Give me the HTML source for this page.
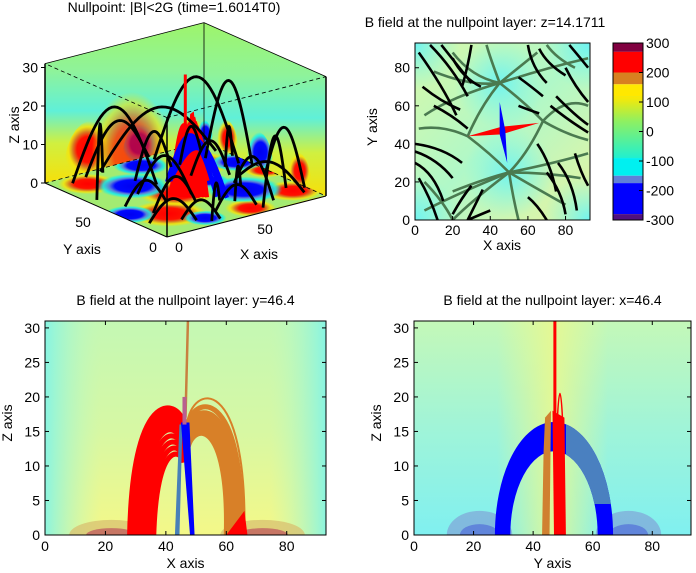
<!DOCTYPE html>
<html><head><meta charset="utf-8"><style>
html,body{margin:0;padding:0;background:#fff}
svg{display:block;font-family:"Liberation Sans",Arial,sans-serif}
</style></head><body>
<svg id="fig" width="696" height="573" viewBox="0 0 696 573" xmlns="http://www.w3.org/2000/svg">
<defs>
<linearGradient id="wallG" x1="0" y1="0" x2="0" y2="1">
<stop offset="0" stop-color="#9ef56a"/><stop offset="0.3" stop-color="#8ff39a"/><stop offset="0.55" stop-color="#60f0d8"/><stop offset="0.75" stop-color="#d0f040"/><stop offset="1" stop-color="#f6e00a"/></linearGradient>
<radialGradient id="hotG"><stop offset="0" stop-color="#ff0000"/><stop offset="0.45" stop-color="#ff1000"/><stop offset="0.62" stop-color="#d87a20"/><stop offset="0.8" stop-color="#f6e40a" stop-opacity="0.85"/><stop offset="1" stop-color="#f6e40a" stop-opacity="0"/></radialGradient>
<radialGradient id="coldG"><stop offset="0" stop-color="#0000f0"/><stop offset="0.5" stop-color="#0008ff"/><stop offset="0.65" stop-color="#5a7fd8"/><stop offset="0.82" stop-color="#10f0f0" stop-opacity="0.85"/><stop offset="1" stop-color="#10f0f0" stop-opacity="0"/></radialGradient>
<radialGradient id="cyanG"><stop offset="0" stop-color="#70f4f0"/><stop offset="1" stop-color="#80f8e8" stop-opacity="0"/></radialGradient>
<linearGradient id="blBg" x1="0" y1="0" x2="0" y2="1"><stop offset="0" stop-color="#c4f8b4"/><stop offset="0.5" stop-color="#d6f8a4"/><stop offset="1" stop-color="#f4f888"/></linearGradient>
<linearGradient id="blSide" x1="0" y1="0" x2="1" y2="0"><stop offset="0" stop-color="#80f4e8" stop-opacity="0.9"/><stop offset="0.2" stop-color="#c0f8c0" stop-opacity="0"/><stop offset="0.8" stop-color="#c0f8c0" stop-opacity="0"/><stop offset="1" stop-color="#80f4e8" stop-opacity="0.9"/></linearGradient>
<linearGradient id="brBg" x1="0" y1="0" x2="0" y2="1"><stop offset="0" stop-color="#c4f8b8"/><stop offset="0.5" stop-color="#a0f4d8"/><stop offset="1" stop-color="#80f0f0"/></linearGradient>
<linearGradient id="brMid" x1="0" y1="0" x2="1" y2="0"><stop offset="0.3" stop-color="#e8f890" stop-opacity="0"/><stop offset="0.5" stop-color="#e8f890" stop-opacity="0.9"/><stop offset="0.7" stop-color="#e8f890" stop-opacity="0"/></linearGradient>
<linearGradient id="trBg" x1="0" y1="0" x2="1" y2="1"><stop offset="0" stop-color="#d8f8a8"/><stop offset="0.5" stop-color="#b0f8c8"/><stop offset="1" stop-color="#e8f4a0"/></linearGradient>
<clipPath id="clipBL"><rect x="45" y="321" width="281" height="214"/></clipPath>
<clipPath id="clipBR"><rect x="414" y="321" width="277" height="214"/></clipPath>
<clipPath id="clipBRright"><rect x="566" y="321" width="125" height="183"/></clipPath>
<clipPath id="clipTR"><rect x="415" y="43" width="175" height="177"/></clipPath>
<clipPath id="clipFloor"><polygon points="45,183 167,237 326,195 204,142"/></clipPath>
<clipPath id="clipWalls"><polygon points="45,183 45,63 204,22 326,75 326,195 204,142"/></clipPath>
</defs>
<g id="tl"></g>
<g id="tr"></g>
<g id="bl"></g>
<g id="br"></g>
</svg>
<script>
// ---------- data ----------
const zTicks3d = [0,10,20,30];
const arcFoot1 = [[5,60],[10,85],[20,88],[30,90],[60,88],[80,75],[88,40],[85,20],[70,10],[15,30],[25,55],[35,70],[60,60],[75,45],[55,20],[40,15],[20,15],[10,45],[65,75],[80,60],[5,20],[30,5]];
const arcFoot2 = [[30,88],[40,60],[60,92],[90,80],[88,60],[92,55],[92,15],[60,5],[70,40],[40,30],[45,40],[60,75],[75,50],[88,10],[70,35],[60,10],[35,5],[30,40],[85,85],[92,70],[25,10],[50,25]];
const arcHeight = [16,20,12,14,22,21,14,16,9,8,10,11,9,6,7,6,5,6,8,9,6,7];
const redArc3dFoot = [[38,40],[40,38],[42,42],[44,36],[46,40],[36,44]];
const redArc3dEnd  = [[60,52],[58,55],[62,50],[56,56],[54,52],[60,56]];
const redArc3dH    = [17,16,15,14,19,16];
const blueArc3dFoot = [[46,60],[48,62],[50,64]];
const blueArc3dEnd  = [[52,30],[54,28],[55,26]];
const blueArc3dH    = [14,13,12];
const floorHot  = [[20,25,18],[72,72,17],[15,80,14],[85,15,14],[40,45,18],[55,8,12],[92,45,10]];
const floorCold = [[30,65,17],[68,30,18],[88,62,12],[5,35,12],[50,85,13],[62,50,10],[30,10,10]];
const wallYHot = [[25,2,14],[85,1,8]];
const wallYCold = [[55,1,10]];
const wallXHot = [[20,1,9],[75,2,8]];
const wallXCold = [[50,1,10],[92,1,6]];

const cbBounds = [300,270,200,160,120,-90,-150,-175,-280,-300];
const cbColors = ["#800040","#ff0000","#d88020","#ffe800","#80f060","#00f0f0","#6080d8","#0000ff","#501080"];
const cbTicks = [300,200,100,0,-100,-200,-300];
const trTicks = [0,20,40,60,80];
const trCyan = [[45,72],[50,25],[92,92],[0,0],[92,0],[0,92]];
const trBlack = [[2,88,15,70,22,55],[8,92,20,80,28,65],[14,92,22,82,30,72],[30,92,28,80,25,70],[60,92,62,80,70,72],[66,90,70,82,80,76],[80,80,85,70,92,62],[75,65,85,55,92,50],[72,60,82,52,92,46],[0,40,15,38,25,30],[0,36,12,32,20,22],[0,30,10,25,15,10],[2,22,8,12,12,0],[30,18,25,12,20,3],[36,16,32,8,28,0],[65,40,72,30,75,15],[70,25,78,15,80,3],[76,30,84,20,86,5],[85,35,88,25,92,18],[10,60,20,55,28,48],[4,70,14,62,24,58],[55,75,62,70,68,65],[20,85,25,75,35,70],[82,92,88,85,92,80],[40,5,35,3,28,0],[55,60,60,58,66,56],[60,12,65,8,70,0]];
const trOlive = [[45,72,30,75,20,88],[45,72,55,80,65,88],[45,72,35,60,28,44],[45,72,58,62,68,52],[50,25,38,22,20,15],[50,25,62,18,80,8],[50,25,40,35,28,44],[50,25,60,35,68,52],[45,72,20,65,5,55],[50,25,75,30,92,35],[45,72,70,80,92,85],[50,25,25,15,5,5],[28,44,15,50,2,48],[68,52,80,45,92,42],[20,0,15,10,5,20],[70,92,75,85,85,80],[45,72,40,85,38,92],[50,25,52,12,55,0],[45,72,30,70,10,78],[50,25,70,25,88,22],[20,0,30,10,50,25],[92,60,80,65,68,52]];
const xTicks = [0,20,40,60,80];
const zTicks = [0,5,10,15,20,25,30];
// bottom-left series (x,z)
const blRedStart = [28,28.5,29,29.5,30,30.5,31,32,33,34,35,36];
const blRedTop   = [18,17.8,17.5,17,16.5,16,15.5,15,14,13,12,11];
const blRedEndZ  = [16,15.5,15,14.5,14,13.5,13,12.5,12,11.5,11,10.5];
const blOrEnd    = [66,65,64,63,62.5,62,61,60.5,60];
const blOrTop    = [20.5,19,18,17.5,17,16.5,16,15.5,15];
const blOrStartZ = [16,15.5,15,14.5,14,13.5,13,12.5,12];
const blBlobs = [[22,0,14,2.2],[72,0,14,2.2]];
// bottom-right series (y,z)
const brBlueStart = [28,28.5,29,29.5,30,30.5,31,31.5];
const brBlueEnd   = [66,65.5,65,64.5,64,63.5,63,62.5];
const brBlueH     = [16,15.5,15,14.5,14,13.5,13,12.5];
const brBlobs = [[22,0,11,3.5],[72,0,11,3.5]];

// ---------- helpers ----------
const NS="http://www.w3.org/2000/svg";
function mk(parent,tag,attrs,txt){const e=document.createElementNS(NS,tag);for(const k in attrs)e.setAttribute(k,attrs[k]);if(txt!==undefined)e.textContent=txt;parent.appendChild(e);return e;}
const TXT={"font-size":"14","fill":"#000"};
function text(p,x,y,s,anchor,name,extra){const t=mk(p,"text",Object.assign({x:x,y:y,"text-anchor":anchor||"middle"},TXT,extra||{}),s);


return t;}

// ---------- 3D panel ----------
const tl=document.getElementById("tl");
function P(x,y,z){return [167+x*159/93-y*122/93, 237-x*41/93-y*54/93-z*3.85];}
function pts(a){return a.map(p=>p.join(",")).join(" ");}
const wall1=mk(tl,"polygon",{points:pts([P(0,93,0),P(93,93,0),P(93,93,31),P(0,93,31)]),fill:"url(#wallG)"});


const wall2=mk(tl,"polygon",{points:pts([P(93,93,0),P(93,0,0),P(93,0,31),P(93,93,31)]),fill:"url(#wallG)"});


const wg=mk(tl,"g",{"clip-path":"url(#clipWalls)"});
function wallBlob(b,grad,plane,name){const poly=[];for(let i=0;i<24;i++){const a=i/24*2*Math.PI;const u=b[0]+b[2]*Math.cos(a),v=Math.max(0,b[1]+b[2]*0.8*Math.sin(a));poly.push(plane==="y"?P(u,93,v):P(93,u,v));}
const e=mk(wg,"polygon",{points:pts(poly),fill:grad});

}
wallYHot.forEach(b=>wallBlob(b,"url(#hotG)","y","wall-positive-flux"));
wallYCold.forEach(b=>wallBlob(b,"url(#coldG)","y","wall-negative-flux"));
wallXHot.forEach(b=>wallBlob(b,"url(#hotG)","x","wall-positive-flux"));
wallXCold.forEach(b=>wallBlob(b,"url(#coldG)","x","wall-negative-flux"));
const c0=P(46,93,8);
mk(wg,"ellipse",{cx:c0[0]+8,cy:c0[1]+20,rx:40,ry:60,fill:"url(#hotG)",opacity:0.7});
const floor=mk(tl,"polygon",{points:pts([P(0,0,0),P(93,0,0),P(93,93,0),P(0,93,0)]),fill:"#f4e818"});


const fg=mk(tl,"g",{"clip-path":"url(#clipFloor)"});
mk(fg,"polygon",{points:pts([P(0,0,0),P(93,0,0),P(93,93,0),P(0,93,0)]),fill:"#40f0e0",opacity:0.45});
function floorBlob(b,grad,name){const poly=[];for(let i=0;i<24;i++){const a=i/24*2*Math.PI;poly.push(P(b[0]+b[2]*Math.cos(a),b[1]+b[2]*Math.sin(a),0));}
const e=mk(fg,"polygon",{points:pts(poly),fill:grad});

}
floorHot.forEach(b=>floorBlob(b,"url(#hotG)","floor-positive-flux"));
floorCold.forEach(b=>floorBlob(b,"url(#coldG)","floor-negative-flux"));
[[P(0,93,0),P(93,93,0)],[P(93,93,0),P(93,0,0)],[P(0,0,31),P(93,0,31)],[P(0,0,31),P(0,93,31)]].forEach(s=>{
 mk(tl,"line",{x1:s[0][0],y1:s[0][1],x2:s[1][0],y2:s[1][1],stroke:"#000","stroke-width":0.8,"stroke-dasharray":"4,3"});});
[[P(0,93,31),P(93,93,31)],[P(93,93,31),P(93,0,31)],[P(93,93,0),P(93,93,31)]].forEach(s=>{
 mk(tl,"line",{x1:s[0][0],y1:s[0][1],x2:s[1][0],y2:s[1][1],stroke:"#000","stroke-width":0.8});});
function arc3d(a,b,h,col,w,name){const d=[];for(let i=0;i<=30;i++){const t=i/30;const x=a[0]+(b[0]-a[0])*t,y=a[1]+(b[1]-a[1])*t,z=h*Math.sin(Math.PI*t);d.push(P(x,y,z));}
const e=mk(tl,"polyline",{points:pts(d),fill:"none",stroke:col,"stroke-width":w});

}
redArc3dFoot.forEach((f,i)=>{for(let k=0;k<5;k++)arc3d([f[0]+k,f[1]-k],redArc3dEnd[i],redArc3dH[i]-k,"#ff0000",4,"red-field-line");});
blueArc3dFoot.forEach((f,i)=>{for(let k=0;k<3;k++)arc3d([f[0]+k,f[1]],blueArc3dEnd[i],blueArc3dH[i]-k,"#0000ff",4,"blue-field-line");});
arcFoot1.forEach((f,i)=>arc3d(f,arcFoot2[i],arcHeight[i],"#000",2.8,"black-field-line"));
{const a=P(46,46,17),b=P(46,46,30);const e=mk(tl,"line",{x1:a[0],y1:a[1],x2:b[0],y2:b[1],stroke:"#ff0000","stroke-width":3});

}
[[P(0,0,0),P(0,0,31)],[P(0,93,0),P(0,93,31)],[P(93,0,0),P(93,0,31)]].forEach(s=>{
 mk(tl,"line",{x1:s[0][0],y1:s[0][1],x2:s[1][0],y2:s[1][1],stroke:"#000","stroke-width":1.5});});
mk(tl,"line",{x1:P(0,0,0)[0],y1:P(0,0,0)[1],x2:P(93,0,0)[0],y2:P(93,0,0)[1],stroke:"#000","stroke-width":1});
mk(tl,"line",{x1:P(0,0,0)[0],y1:P(0,0,0)[1],x2:P(0,93,0)[0],y2:P(0,93,0)[1],stroke:"#000","stroke-width":1});
zTicks3d.forEach(v=>{const p=P(0,93,v);mk(tl,"line",{x1:p[0]-4,y1:p[1],x2:p[0],y2:p[1],stroke:"#000"});text(tl,p[0]-7,p[1]+5,String(v),"end","z-tick-label");});
text(tl,83,227,"50","middle","y-tick-label");text(tl,153,252,"0","middle","y-tick-label");
text(tl,179,252,"0","middle","x-tick-label");text(tl,265,234,"50","middle","x-tick-label");
text(tl,82,254,"Y axis","middle","y-axis-title");text(tl,259,259,"X axis","middle","x-axis-title");
text(tl,14,125,"Z axis","middle","z-axis-title",{transform:"rotate(-90 14 125)"}).setAttribute("y",130);
text(tl,174,12,"Nullpoint: |B|<2G (time=1.6014T0)","middle","plot-title");

// ---------- top-right panel ----------
const tr=document.getElementById("tr");
const tx=v=>415+v*175/93, ty=v=>220-v*177/93;
const trg=mk(tr,"g",{"clip-path":"url(#clipTR)"});
mk(trg,"rect",{x:415,y:43,width:175,height:177,fill:"url(#trBg)"});
trCyan.forEach(c=>{const e=mk(trg,"ellipse",{cx:tx(c[0]),cy:ty(c[1]),rx:45,ry:45,fill:"url(#cyanG)"});

});
function qcurve(g,c,col,w,name){const e=mk(g,"path",{d:`M${tx(c[0])},${ty(c[1])} Q${tx(c[2])},${ty(c[3])} ${tx(c[4])},${ty(c[5])}`,fill:"none",stroke:col,"stroke-width":w});

}
trOlive.forEach(c=>qcurve(trg,c,"#4a7a50",2.6,"olive-field-line"));
trBlack.forEach(c=>qcurve(trg,c,"#000",2.6,"black-field-line"));
{const e=mk(trg,"polygon",{points:[[28,44],[46,49],[66,51],[46,45]].map(p=>tx(p[0])+","+ty(p[1])).join(" "),fill:"#ff0000"});


const b=mk(trg,"polygon",{points:[[45,62],[48,47],[49,30],[45,45]].map(p=>tx(p[0])+","+ty(p[1])).join(" "),fill:"#0000ff"});

}
mk(tr,"rect",{x:415,y:43,width:175,height:177,fill:"none",stroke:"#000"});
trTicks.forEach(v=>{mk(tr,"line",{x1:tx(v),y1:220,x2:tx(v),y2:216,stroke:"#000"});text(tr,tx(v),235,String(v),"middle","x-tick-label");
 mk(tr,"line",{x1:415,y1:ty(v),x2:419,y2:ty(v),stroke:"#000"});text(tr,410,ty(v)+5,String(v),"end","y-tick-label");});
text(tr,502,250,"X axis","middle","x-axis-title");
text(tr,382,132,"Y axis","middle","y-axis-title",{transform:"rotate(-90 377 132)"});
text(tr,485,27,"B field at the nullpoint layer: z=14.1711","middle","plot-title");
const cy=v=>43+(300-v)*177/600;
for(let i=0;i<cbColors.length;i++){const e=mk(tr,"rect",{x:613,y:cy(cbBounds[i]),width:30,height:cy(cbBounds[i+1])-cy(cbBounds[i]),fill:cbColors[i]});

}
{const gy=mk(tr,"linearGradient",{id:"cbGrad",x1:0,y1:0,x2:0,y2:1});mk(gy,"stop",{offset:0,"stop-color":"#ffe800"});mk(gy,"stop",{offset:0.4,"stop-color":"#90f060"});mk(gy,"stop",{offset:1,"stop-color":"#20f0d0"});
mk(tr,"rect",{x:613,y:cy(120),width:30,height:cy(-90)-cy(120),fill:"url(#cbGrad)"});}
mk(tr,"rect",{x:613,y:43,width:30,height:177,fill:"none",stroke:"#000"});
cbTicks.forEach(v=>{mk(tr,"line",{x1:639,y1:cy(v),x2:643,y2:cy(v),stroke:"#000"});text(tr,646,cy(v)+5,String(v),"start","colorbar-tick-label");});

// ---------- bottom panels ----------
function panel(g,x0,w,clip,bgFill,extraBg,title,xl,blobs,blobCol,draw){
 const sx=v=>x0+v*w/93, sz=v=>535-v*214/31;
 const cg=mk(g,"g",{"clip-path":clip});
 mk(cg,"rect",{x:x0,y:321,width:w,height:214,fill:bgFill});
 mk(cg,"rect",{x:x0,y:321,width:w,height:214,fill:extraBg});
 blobs.forEach(b=>{const e=mk(cg,"ellipse",{cx:sx(b[0]),cy:sz(b[1]),rx:b[2]*w/93,ry:b[3]*214/31,fill:blobCol[0],opacity:0.75});
 
 
 mk(cg,"ellipse",{cx:sx(b[0]),cy:sz(b[1]),rx:b[2]*0.6*w/93,ry:b[3]*0.45*214/31,fill:blobCol[1],opacity:0.8});});
 draw(cg,sx,sz);
 mk(g,"rect",{x:x0,y:321,width:w,height:214,fill:"none",stroke:"#000"});
 xTicks.forEach(v=>{mk(g,"line",{x1:sx(v),y1:535,x2:sx(v),y2:531,stroke:"#000"});mk(g,"line",{x1:sx(v),y1:321,x2:sx(v),y2:325,stroke:"#000"});text(g,sx(v),551,String(v),"middle","x-tick-label");});
 zTicks.forEach(v=>{mk(g,"line",{x1:x0,y1:sz(v),x2:x0+4,y2:sz(v),stroke:"#000"});mk(g,"line",{x1:x0+w,y1:sz(v),x2:x0+w-4,y2:sz(v),stroke:"#000"});text(g,x0-5,sz(v)+5,String(v),"end","z-tick-label");});
 text(g,x0+w/2,568,xl,"middle","x-axis-title");
 text(g,x0-28,428,"Z axis","middle","z-axis-title",{transform:`rotate(-90 ${x0-33} 428)`});
 text(g,x0+w/2,305,title,"middle","plot-title");
}
function arc2(g,sx,sz,a,b,h,col,w,name){const e=mk(g,"path",{d:`M${sx(a)},${sz(0)} A${(sx(b)-sx(a))/2},${sz(0)-sz(h)} 0 0 1 ${sx(b)},${sz(0)}`,fill:"none",stroke:col,"stroke-width":w});

return e;}
function cpath(g,d,col,w,name){const e=mk(g,"path",{d:d,fill:"none",stroke:col,"stroke-width":w});

}
panel(document.getElementById("bl"),45,281,"url(#clipBL)","url(#blBg)","url(#blSide)","B field at the nullpoint layer: y=46.4","X axis",blBlobs,["#d8c070","#c06060"],(g,sx,sz)=>{
 blOrEnd.forEach((e,i)=>{const zs=blOrStartZ[i],h=blOrTop[i];
  cpath(g,`M${sx(47)},${sz(zs)} C${sx(48.5)},${sz(h+1.5)} ${sx(e+1)},${sz(h*1.15)} ${sx(e)},${sz(0)}`,"#d88028",i===0?2:5,"orange-field-line");});
 blRedStart.forEach((s,i)=>{const h=blRedTop[i],ze=blRedEndZ[i];
  cpath(g,`M${sx(s)},${sz(0)} C${sx(s+1)},${sz(h*1.25)} ${sx(45)},${sz(h+1.5)} ${sx(46)},${sz(ze)}`,"#ff0000",5,"red-field-line");});
 const r=mk(g,"polygon",{points:`${sx(60)},${sz(0)} ${sx(66)},${sz(3.5)} ${sx(67)},${sz(0)}`,fill:"#ff0000"});
 
 
 const sb=mk(g,"polygon",{points:`${sx(43)},${sz(0)} ${sx(44.5)},${sz(0)} ${sx(45.5)},${sz(16)} ${sx(44.5)},${sz(16)}`,fill:"#4880b8"});
 
 
 const bb=mk(g,"polygon",{points:`${sx(48)},${sz(0)} ${sx(49.5)},${sz(0)} ${sx(47.8)},${sz(16.3)} ${sx(45)},${sz(16.3)}`,fill:"#0000ff"});
 
 
 const sp=mk(g,"line",{x1:sx(46.5),y1:sz(17),x2:sx(47.3),y2:sz(31),stroke:"#c88040","stroke-width":2.5});
 
 
 mk(g,"rect",{x:sx(45.5),y:sz(20),width:4,height:sz(16)-sz(20),fill:"#b86090"});
});
panel(document.getElementById("br"),414,277,"url(#clipBR)","url(#brBg)","url(#brMid)","B field at the nullpoint layer: x=46.4","Y axis",brBlobs,["#80a8d8","#5878d8"],(g,sx,sz)=>{
 brBlueStart.forEach((s,i)=>arc2(g,sx,sz,s,brBlueEnd[i],brBlueH[i],"#0000ff",5,"blue-field-line"));
 const rg=mk(g,"g",{"clip-path":"url(#clipBRright)"});
 brBlueStart.forEach((s,i)=>arc2(rg,sx,sz,s,brBlueEnd[i],brBlueH[i],"#4a80c0",5,"steelblue-field-line"));
 const ob=mk(g,"polygon",{points:`${sx(43)},${sz(0)} ${sx(45.5)},${sz(0)} ${sx(46)},${sz(18)} ${sx(44)},${sz(17)} ${sx(43.5)},${sz(12)}`,fill:"#d08030"});
 
 
 const rb=mk(g,"polygon",{points:`${sx(47)},${sz(0)} ${sx(51)},${sz(0)} ${sx(50.5)},${sz(17)} ${sx(46.5)},${sz(18)}`,fill:"#ff0000"});
 
 
 const sp=mk(g,"line",{x1:sx(47.3),y1:sz(16),x2:sx(47.3),y2:sz(31),stroke:"#ff0000","stroke-width":3});
 
 
 arc2(g,sx,sz,47.5,50.5,20.5,"#ff0000",1.5,"red-loop");
});
</script>
</body></html>
